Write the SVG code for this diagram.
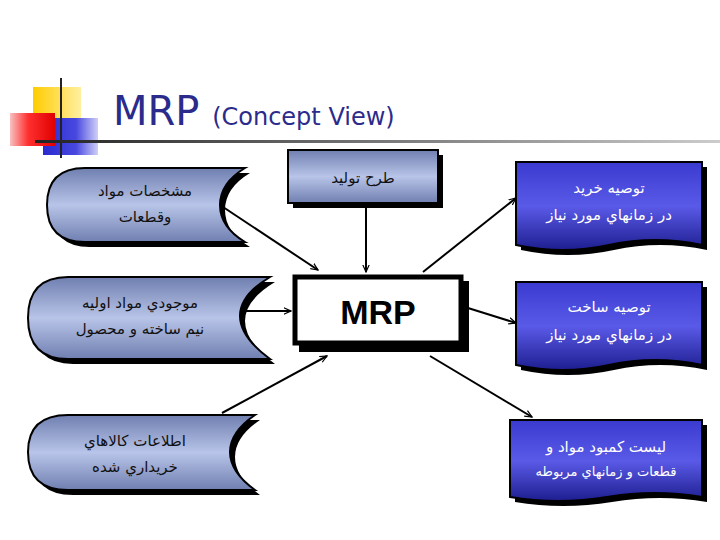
<svg xmlns="http://www.w3.org/2000/svg" width="720" height="540" viewBox="0 0 720 540">
<defs>
<linearGradient id="gv" x1="0" y1="0" x2="0" y2="1"><stop offset="0" stop-color="#6f7fb0"/><stop offset="0.5" stop-color="#b8c4e8"/><stop offset="1" stop-color="#6f7fb0"/></linearGradient>
<linearGradient id="gb" x1="0" y1="0" x2="0" y2="1"><stop offset="0" stop-color="#3a3ad0"/><stop offset="0.5" stop-color="#5a5ae8"/><stop offset="1" stop-color="#1e1e90"/></linearGradient>
<linearGradient id="gl" x1="0" y1="0" x2="1" y2="0"><stop offset="0" stop-color="#222"/><stop offset="1" stop-color="#ccc"/></linearGradient>
<linearGradient id="gr" x1="0" y1="0" x2="1" y2="0"><stop offset="0" stop-color="#f8c0c0"/><stop offset="0.4" stop-color="#ff3030"/><stop offset="1" stop-color="#e00000"/></linearGradient>
<linearGradient id="gbl" x1="0" y1="0" x2="1" y2="0"><stop offset="0" stop-color="#2a2ad0"/><stop offset="0.6" stop-color="#4848e0"/><stop offset="1" stop-color="#d0d0f8"/></linearGradient>
<linearGradient id="gy" x1="0" y1="0" x2="1" y2="0"><stop offset="0" stop-color="#ffcc00"/><stop offset="1" stop-color="#fff0a0"/></linearGradient>
<marker id="ar" viewBox="0 0 10 10" refX="9" refY="5" markerWidth="8" markerHeight="8" orient="auto" markerUnits="userSpaceOnUse"><path d="M0,1 L9,5 L0,9" fill="none" stroke="#000" stroke-width="1.5"/></marker>
</defs>
<style>
.fa{font-family:"DejaVu Sans","Noto Sans",sans-serif;font-size:15px;text-anchor:middle}
.dk{fill:#111}.wt{fill:#fff}
.cn{stroke:#000;stroke-width:2;fill:none;marker-end:url(#ar)}
.sh{fill:#000}
.bd{stroke:#000;stroke-width:2}
</style>
<rect width="720" height="540" fill="#fff"/>
<g id="logo">
<rect x="33" y="87" width="48" height="34" fill="url(#gy)"/>
<rect x="43" y="118" width="55" height="37" fill="url(#gbl)"/>
<rect x="10" y="113" width="45" height="33" fill="url(#gr)"/>
<line x1="61" y1="78" x2="61" y2="158" stroke="#222" stroke-width="2"/>
<rect x="35" y="140" width="685" height="3" fill="url(#gl)"/>
</g>
<g id="title"><text x="113" y="125" font-family="Tahoma,'DejaVu Sans',sans-serif" font-size="40" fill="#2b2b8c">MRP <tspan font-size="24">(Concept View)</tspan></text></g>
<g id="connectors">
<line class="cn" x1="217" y1="203" x2="318" y2="270"/>
<line class="cn" x1="366" y1="203" x2="366" y2="272"/>
<line class="cn" x1="240" y1="311" x2="291" y2="311"/>
<line class="cn" x1="222" y1="413" x2="327" y2="356"/>
<line class="cn" x1="423" y1="272" x2="516" y2="198"/>
<line class="cn" x1="468" y1="308" x2="516" y2="323"/>
<line class="cn" x1="430" y1="356" x2="532" y2="417"/>
</g>
<g id="n-top">
<rect x="293" y="155" width="150" height="53" class="sh"/>
<rect x="288" y="150" width="150" height="53" fill="url(#gv)" class="bd"/>
<text class="fa dk" x="363" y="183">طرح تولید</text>
</g>
<g id="n-mrp">
<rect x="299" y="281" width="170" height="71" class="sh"/>
<rect x="295" y="277" width="166" height="66" fill="#fff" stroke="#000" stroke-width="5"/>
<text x="378" y="324" font-family="'Liberation Sans',Arial,sans-serif" font-weight="bold" font-size="34" text-anchor="middle">MRP</text>
</g>
<g id="n-l1">
<path d="M90,173 H250 Q225,188 225,210 Q225,232 250,247 H90 Q52,247 52,210 Q52,173 90,173 Z" class="sh"/>
<path d="M85,168 H245 Q220,183 220,205 Q220,227 245,242 H85 Q47,242 47,205 Q47,168 85,168 Z" fill="url(#gv)" class="bd"/>
<text class="fa dk" x="145" y="196">مشخصات مواد</text>
<text class="fa dk" x="145" y="222">وقطعات</text>
</g>
<g id="n-l2">
<path d="M73,282 H275 Q245,300 245,321 Q245,342 275,364 H73 Q33,364 33,323 Q33,282 73,282 Z" class="sh"/>
<path d="M68,277 H270 Q240,295 240,316 Q240,337 270,359 H68 Q28,359 28,318 Q28,277 68,277 Z" fill="url(#gv)" class="bd"/>
<text class="fa dk" x="140" y="308">موجودي مواد اوليه</text>
<text class="fa dk" x="140" y="334">نيم ساخته و محصول</text>
</g>
<g id="n-l3">
<path d="M73,420 H260 Q235,437 235,457 Q235,477 260,495 H73 Q33,495 33,457 Q33,420 73,420 Z" class="sh"/>
<path d="M68,415 H255 Q230,432 230,452 Q230,472 255,490 H68 Q28,490 28,452 Q28,415 68,415 Z" fill="url(#gv)" class="bd"/>
<text class="fa dk" x="135" y="446">اطلاعات كالاهاي</text>
<text class="fa dk" x="135" y="472">خريداري شده</text>
</g>
<g id="n-r1">
<path d="M521,167 H707 V250 Q660,240 614,250 Q568,260 521,250 Z" class="sh"/>
<path d="M516,162 H702 V245 Q655,235 609,245 Q563,255 516,245 Z" fill="url(#gb)" class="bd"/>
<text class="fa wt" x="609" y="193">توصيه خريد</text>
<text class="fa wt" x="609" y="220">در زمانهاي مورد نياز</text>
</g>
<g id="n-r2">
<path d="M521,287 H707 V370 Q660,360 614,370 Q568,380 521,370 Z" class="sh"/>
<path d="M516,282 H702 V365 Q655,355 609,365 Q563,375 516,365 Z" fill="url(#gb)" class="bd"/>
<text class="fa wt" x="609" y="312">توصيه  ساخت</text>
<text class="fa wt" x="609" y="340">در زمانهاي مورد نياز</text>
</g>
<g id="n-r3">
<path d="M515,425 H707 V502 Q660,494 612,502 Q563,510 515,502 Z" class="sh"/>
<path d="M510,420 H702 V497 Q655,489 607,497 Q558,505 510,497 Z" fill="url(#gb)" class="bd"/>
<text class="fa wt" x="606" y="452">ليست كمبود مواد  و</text>
<text class="fa wt" x="606" y="476" style="font-size:13px">قطعات و زمانهاي مربوطه</text>
</g>
</svg>
